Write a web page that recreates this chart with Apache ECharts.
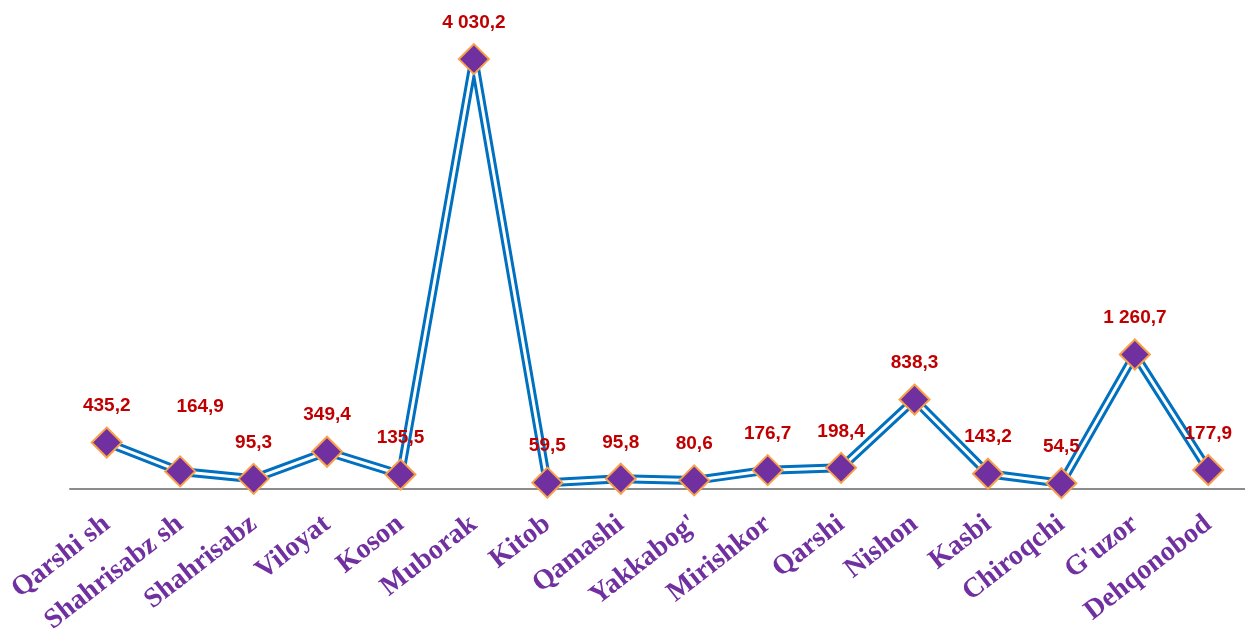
<!DOCTYPE html>
<html>
<head>
<meta charset="utf-8">
<style>html,body{margin:0;padding:0;background:#fff;}#c{width:1245px;height:637px;}</style>
<script src="https://cdn.jsdelivr.net/npm/echarts@6/dist/echarts.min.js"></script>
</head>
<body>
<div id="c"></div>
<script>
const categories = ["Qarshi sh","Shahrisabz sh","Shahrisabz","Viloyat","Koson","Muborak","Kitob","Qamashi","Yakkabog'","Mirishkor","Qarshi","Nishon","Kasbi","Chiroqchi","G'uzor","Dehqonobod"];
const values = [435.2,164.9,95.3,349.4,135.5,4030.2,59.5,95.8,80.6,176.7,198.4,838.3,143.2,54.5,1260.7,177.9];

function fmt(v){
  const parts = v.toFixed(1).split('.');
  const intPart = parts[0].replace(/\B(?=(\d{3})+(?!\d))/g, ' ');
  return intPart + ',' + parts[1];
}

const chart = echarts.init(document.getElementById('c'));
const topData = values.map((v,i)=>{
  const d = {value: v};
  if (i === 1) d.label = {offset: [20, -28]};
  return d;
});
chart.setOption({
  animation: false,
  grid: {left: 70, top: 9, width: 1179, bottom: 148, containLabel: false},
  xAxis: {
    type: 'category',
    data: categories,
    boundaryGap: true,
    axisLine: {lineStyle: {color: '#8c8c8c', width: 2}},
    axisTick: {show: false},
    axisLabel: {
      interval: 0, rotate: 38, margin: 32,
      color: '#7030A0', fontFamily: 'Liberation Serif', fontWeight: 'bold', fontSize: 28
    }
  },
  yAxis: {type: 'value', min: 0, max: 4500, show: false, splitLine: {show: false}},
  series: [
    {
      type: 'line', data: values, symbol: 'none', z: 2,
      lineStyle: {color: '#0070C0', width: 9}
    },
    {
      type: 'line', data: topData, z: 3,
      symbol: 'diamond', symbolSize: 30,
      itemStyle: {color: '#7030A0', borderColor: '#F9A04A', borderWidth: 2},
      lineStyle: {color: '#ffffff', width: 3},
      label: {
        show: true, position: 'top', distance: 11,
        color: '#C00000', fontFamily: 'Liberation Sans', fontWeight: 'bold', fontSize: 19,
        formatter: p => fmt(p.value)
      }
    }
  ]
});
</script>
</body>
</html>
